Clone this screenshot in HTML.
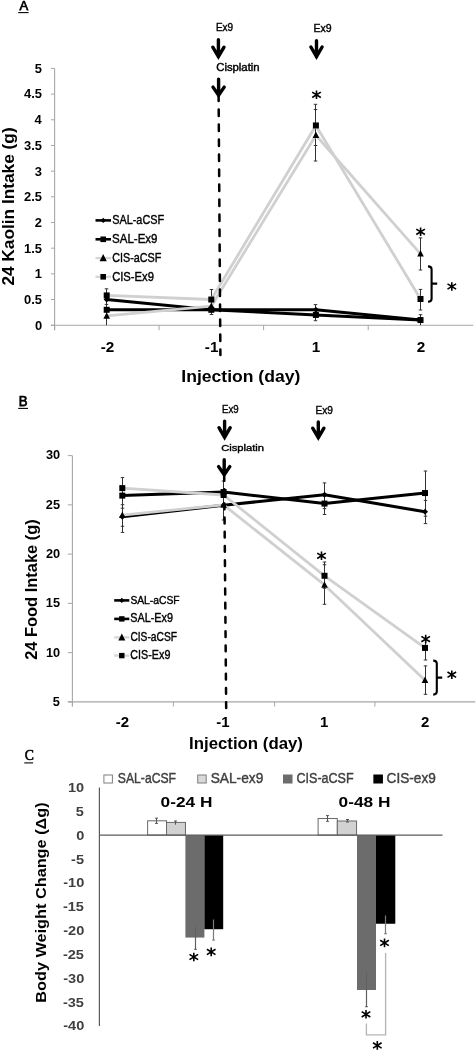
<!DOCTYPE html>
<html><head><meta charset="utf-8"><style>
html,body{margin:0;padding:0;background:#fff;width:476px;height:1050px;overflow:hidden;}
body{position:relative;font-family:"Liberation Sans", sans-serif;}
</style></head><body>
<svg width="476" height="1050" viewBox="0 0 476 1050" style="position:absolute;left:0;top:0">
<defs><filter id="bm" filterUnits="userSpaceOnUse" x="0" y="0" width="476" height="1050"><feGaussianBlur stdDeviation="0.6"/></filter><filter id="bs" filterUnits="userSpaceOnUse" x="0" y="0" width="476" height="1050"><feGaussianBlur stdDeviation="0.35"/></filter></defs>
<rect width="476" height="1050" fill="#fff"/>
<g filter="url(#bm)">
<text x="19.40" y="9.90" font-size="13.62" font-weight="normal" fill="#000" stroke="#000" stroke-width="0.75" font-family='Liberation Sans' textLength="8.69" lengthAdjust="spacingAndGlyphs">A</text>
<line x1="18.20" y1="12.60" x2="28.60" y2="12.60" stroke="#000" stroke-width="1.1" />
<line x1="54.60" y1="68.40" x2="54.60" y2="330.20" stroke="#a6a6a6" stroke-width="1.1" />
<line x1="51.00" y1="325.20" x2="473.20" y2="325.20" stroke="#a6a6a6" stroke-width="1.1" />
<line x1="51.00" y1="325.20" x2="54.60" y2="325.20" stroke="#a6a6a6" stroke-width="1" />
<text x="35.00" y="329.57" font-size="12.20" font-weight="bold" fill="#000" font-family='Liberation Sans' textLength="7.19" lengthAdjust="spacingAndGlyphs">0</text>
<line x1="51.00" y1="299.52" x2="54.60" y2="299.52" stroke="#a6a6a6" stroke-width="1" />
<text x="24.01" y="303.89" font-size="12.20" font-weight="bold" fill="#000" font-family='Liberation Sans' textLength="17.98" lengthAdjust="spacingAndGlyphs">0.5</text>
<line x1="51.00" y1="273.85" x2="54.60" y2="273.85" stroke="#a6a6a6" stroke-width="1" />
<text x="34.75" y="278.22" font-size="12.20" font-weight="bold" fill="#000" font-family='Liberation Sans' textLength="7.19" lengthAdjust="spacingAndGlyphs">1</text>
<line x1="51.00" y1="248.17" x2="54.60" y2="248.17" stroke="#a6a6a6" stroke-width="1" />
<text x="24.01" y="252.54" font-size="12.20" font-weight="bold" fill="#000" font-family='Liberation Sans' textLength="17.98" lengthAdjust="spacingAndGlyphs">1.5</text>
<line x1="51.00" y1="222.50" x2="54.60" y2="222.50" stroke="#a6a6a6" stroke-width="1" />
<text x="34.88" y="226.87" font-size="12.20" font-weight="bold" fill="#000" font-family='Liberation Sans' textLength="7.19" lengthAdjust="spacingAndGlyphs">2</text>
<line x1="51.00" y1="196.82" x2="54.60" y2="196.82" stroke="#a6a6a6" stroke-width="1" />
<text x="24.01" y="201.19" font-size="12.20" font-weight="bold" fill="#000" font-family='Liberation Sans' textLength="17.98" lengthAdjust="spacingAndGlyphs">2.5</text>
<line x1="51.00" y1="171.15" x2="54.60" y2="171.15" stroke="#a6a6a6" stroke-width="1" />
<text x="34.88" y="175.52" font-size="12.20" font-weight="bold" fill="#000" font-family='Liberation Sans' textLength="7.19" lengthAdjust="spacingAndGlyphs">3</text>
<line x1="51.00" y1="145.47" x2="54.60" y2="145.47" stroke="#a6a6a6" stroke-width="1" />
<text x="24.01" y="149.84" font-size="12.20" font-weight="bold" fill="#000" font-family='Liberation Sans' textLength="17.98" lengthAdjust="spacingAndGlyphs">3.5</text>
<line x1="51.00" y1="119.80" x2="54.60" y2="119.80" stroke="#a6a6a6" stroke-width="1" />
<text x="34.49" y="124.17" font-size="12.20" font-weight="bold" fill="#000" font-family='Liberation Sans' textLength="7.19" lengthAdjust="spacingAndGlyphs">4</text>
<line x1="51.00" y1="94.12" x2="54.60" y2="94.12" stroke="#a6a6a6" stroke-width="1" />
<text x="24.01" y="98.49" font-size="12.20" font-weight="bold" fill="#000" font-family='Liberation Sans' textLength="17.98" lengthAdjust="spacingAndGlyphs">4.5</text>
<line x1="51.00" y1="68.45" x2="54.60" y2="68.45" stroke="#a6a6a6" stroke-width="1" />
<text x="34.75" y="72.82" font-size="12.20" font-weight="bold" fill="#000" font-family='Liberation Sans' textLength="7.19" lengthAdjust="spacingAndGlyphs">5</text>
<line x1="54.60" y1="325.20" x2="54.60" y2="330.20" stroke="#a6a6a6" stroke-width="1" />
<line x1="159.00" y1="325.20" x2="159.00" y2="330.20" stroke="#a6a6a6" stroke-width="1" />
<line x1="263.60" y1="325.20" x2="263.60" y2="330.20" stroke="#a6a6a6" stroke-width="1" />
<line x1="368.20" y1="325.20" x2="368.20" y2="330.20" stroke="#a6a6a6" stroke-width="1" />
<text x="100.64" y="352.20" font-size="15.30" font-weight="bold" fill="#000" font-family='Liberation Sans' textLength="13.61" lengthAdjust="spacingAndGlyphs">-2</text>
<text x="204.87" y="352.20" font-size="15.30" font-weight="bold" fill="#000" font-family='Liberation Sans' textLength="13.61" lengthAdjust="spacingAndGlyphs">-1</text>
<text x="311.84" y="352.20" font-size="15.30" font-weight="bold" fill="#000" font-family='Liberation Sans' textLength="8.51" lengthAdjust="spacingAndGlyphs">1</text>
<text x="416.69" y="352.20" font-size="15.30" font-weight="bold" fill="#000" font-family='Liberation Sans' textLength="8.51" lengthAdjust="spacingAndGlyphs">2</text>
<text x="181.27" y="381.50" font-size="16.23" font-weight="bold" fill="#000" font-family='Liberation Sans' textLength="119.08" lengthAdjust="spacingAndGlyphs">Injection (day)</text>
<text transform="translate(13.60,285.62) rotate(-90)" font-size="16.29" font-weight="bold" fill="#000" font-family='Liberation Sans' textLength="158.26" lengthAdjust="spacingAndGlyphs">24 Kaolin Intake (g)</text>
<text x="215.90" y="31.20" font-size="11.01" font-weight="normal" fill="#000" stroke="#000" stroke-width="0.4" font-family='Liberation Sans' textLength="17.23" lengthAdjust="spacingAndGlyphs">Ex9</text>
<text x="313.56" y="31.70" font-size="11.01" font-weight="normal" fill="#000" stroke="#000" stroke-width="0.4" font-family='Liberation Sans' textLength="18.20" lengthAdjust="spacingAndGlyphs">Ex9</text>
<text x="216.23" y="70.50" font-size="10.14" font-weight="normal" fill="#000" stroke="#000" stroke-width="0.4" font-family='Liberation Sans' textLength="43.40" lengthAdjust="spacingAndGlyphs">Cisplatin</text>
<path d="M218.40,39.70 V56.80 M212.80,47.20 L218.40,56.60 L224.00,47.20" fill="none" stroke="#000" stroke-width="3.4" stroke-linecap="round" stroke-linejoin="miter"/>
<path d="M316.50,40.70 V56.90 M310.90,47.00 L316.50,56.70 L322.10,47.00" fill="none" stroke="#000" stroke-width="3.4" stroke-linecap="round" stroke-linejoin="miter"/>
<path d="M218.60,79.30 V95.50 M213.00,87.10 L218.60,95.30 L224.20,87.10" fill="none" stroke="#000" stroke-width="3.4" stroke-linecap="round" stroke-linejoin="miter"/>
</g>
<g filter="url(#bs)">
<path d="M106.50,288.80 V325.20 M104.75,288.80 H108.25 M104.75,304.40 H108.25 " stroke="#333" stroke-width="1.0" fill="none"/>
<path d="M211.50,289.50 V314.50 M209.75,289.50 H213.25 M209.75,314.50 H213.25 " stroke="#333" stroke-width="1.0" fill="none"/>
<path d="M315.50,104.30 V161.00 M313.75,104.30 H317.25 M313.75,109.50 H317.25 M313.75,145.50 H317.25 M313.75,161.00 H317.25 " stroke="#333" stroke-width="1.0" fill="none"/>
<path d="M315.50,304.60 V320.70 M313.75,304.60 H317.25 M313.75,320.70 H317.25 " stroke="#333" stroke-width="1.0" fill="none"/>
<path d="M420.50,237.90 V270.00 M418.75,237.90 H422.25 M418.75,270.00 H422.25 " stroke="#333" stroke-width="1.0" fill="none"/>
<path d="M420.50,289.40 V310.00 M418.75,289.40 H422.25 M418.75,310.00 H422.25 " stroke="#333" stroke-width="1.0" fill="none"/>
<path d="M420.50,314.70 V325.20 M418.75,314.70 H422.25 " stroke="#333" stroke-width="1.0" fill="none"/>
</g>
<g filter="url(#bm)">
<polyline points="106.70,299.52 211.30,309.80 315.90,309.80 420.50,320.06" fill="none" stroke="#000" stroke-width="3.0" stroke-linejoin="round" stroke-linecap="round" />
<polyline points="106.70,309.80 211.30,309.80 315.90,314.93 420.50,320.06" fill="none" stroke="#000" stroke-width="3.0" stroke-linejoin="round" stroke-linecap="round" />
<polyline points="106.70,315.96 211.30,306.20 315.90,135.20 420.50,253.82" fill="none" stroke="#d0d0d0" stroke-width="2.8" stroke-linejoin="round" stroke-linecap="round" />
<polyline points="106.70,295.42 211.30,299.52 315.90,125.45 420.50,299.01" fill="none" stroke="#d0d0d0" stroke-width="2.8" stroke-linejoin="round" stroke-linecap="round" />
<polygon points="106.70,296.52 109.70,299.52 106.70,302.52 103.70,299.52" fill="#000"/>
<polygon points="211.30,306.80 214.30,309.80 211.30,312.80 208.30,309.80" fill="#000"/>
<polygon points="315.90,306.80 318.90,309.80 315.90,312.80 312.90,309.80" fill="#000"/>
<polygon points="420.50,317.06 423.50,320.06 420.50,323.06 417.50,320.06" fill="#000"/>
<rect x="103.70" y="306.80" width="6.00" height="6.00" fill="#000"/>
<rect x="208.30" y="306.80" width="6.00" height="6.00" fill="#000"/>
<rect x="312.90" y="311.93" width="6.00" height="6.00" fill="#000"/>
<rect x="417.50" y="317.06" width="6.00" height="6.00" fill="#000"/>
<polygon points="106.70,312.26 110.00,318.76 103.40,318.76" fill="#000"/>
<polygon points="211.30,302.50 214.60,309.00 208.00,309.00" fill="#000"/>
<polygon points="315.90,131.50 319.20,138.00 312.60,138.00" fill="#000"/>
<polygon points="420.50,250.12 423.80,256.62 417.20,256.62" fill="#000"/>
<rect x="103.70" y="292.42" width="6.00" height="6.00" fill="#000"/>
<rect x="208.30" y="296.52" width="6.00" height="6.00" fill="#000"/>
<rect x="312.90" y="122.45" width="6.00" height="6.00" fill="#000"/>
<rect x="417.50" y="296.01" width="6.00" height="6.00" fill="#000"/>
<line x1="218.6" y1="95" x2="220.4" y2="355" stroke="#000" stroke-width="2.5" stroke-dasharray="6.7 8.3" stroke-dashoffset="0.6" stroke-linecap="round"/>
<line x1="95.50" y1="220.40" x2="111.00" y2="220.40" stroke="#000" stroke-width="2.6" />
<polygon points="103.20,217.70 105.90,220.40 103.20,223.10 100.50,220.40" fill="#000"/>
<text x="112.16" y="223.90" font-size="12.90" font-weight="normal" fill="#000" stroke="#000" stroke-width="0.4" font-family='Liberation Sans' textLength="51.97" lengthAdjust="spacingAndGlyphs">SAL-aCSF</text>
<line x1="95.50" y1="239.30" x2="111.00" y2="239.30" stroke="#000" stroke-width="2.6" />
<rect x="100.40" y="236.50" width="5.60" height="5.60" fill="#000"/>
<text x="112.12" y="242.90" font-size="12.75" font-weight="normal" fill="#000" stroke="#000" stroke-width="0.4" font-family='Liberation Sans' textLength="45.41" lengthAdjust="spacingAndGlyphs">SAL-Ex9</text>
<line x1="95.50" y1="258.10" x2="111.00" y2="258.10" stroke="#d6d6d6" stroke-width="2.3" />
<polygon points="103.20,254.10 106.80,261.20 99.60,261.20" fill="#000"/>
<text x="112.16" y="262.00" font-size="12.32" font-weight="normal" fill="#000" stroke="#000" stroke-width="0.4" font-family='Liberation Sans' textLength="49.23" lengthAdjust="spacingAndGlyphs">CIS-aCSF</text>
<line x1="95.50" y1="276.80" x2="111.00" y2="276.80" stroke="#d6d6d6" stroke-width="2.3" />
<rect x="100.40" y="274.00" width="5.60" height="5.60" fill="#000"/>
<text x="112.14" y="280.60" font-size="12.46" font-weight="normal" fill="#000" stroke="#000" stroke-width="0.4" font-family='Liberation Sans' textLength="41.85" lengthAdjust="spacingAndGlyphs">CIS-Ex9</text>
<path d="M316.50,90.50 L316.50,99.10 M312.20,92.13 L320.80,97.47 M312.20,97.47 L320.80,92.13 " stroke="#000" stroke-width="1.6" stroke-linecap="butt" fill="none"/>
<path d="M420.60,227.50 L420.60,236.10 M416.30,229.13 L424.90,234.47 M416.30,234.47 L424.90,229.13 " stroke="#000" stroke-width="1.6" stroke-linecap="butt" fill="none"/>
<path d="M451.80,282.20 L451.80,290.80 M447.50,283.83 L456.10,289.17 M447.50,289.17 L456.10,283.83 " stroke="#000" stroke-width="1.6" stroke-linecap="butt" fill="none"/>
<path d="M428.0,266.4 Q431.6,266.4 431.6,269.4 V298.8 Q431.6,301.8 428.0,301.8 M431.6,283.6 H437.2" fill="none" stroke="#000" stroke-width="2.1"/>
<text x="18.74" y="405.80" font-size="13.77" font-weight="normal" fill="#000" stroke="#000" stroke-width="0.75" font-family='Liberation Sans' textLength="8.81" lengthAdjust="spacingAndGlyphs">B</text>
<line x1="18.20" y1="408.40" x2="28.00" y2="408.40" stroke="#000" stroke-width="1.1" />
<line x1="72.40" y1="455.70" x2="72.40" y2="706.30" stroke="#a6a6a6" stroke-width="1.1" />
<line x1="68.00" y1="701.90" x2="475.20" y2="701.90" stroke="#a6a6a6" stroke-width="1.1" />
<line x1="67.80" y1="455.60" x2="72.40" y2="455.60" stroke="#a6a6a6" stroke-width="1" />
<text x="45.96" y="459.48" font-size="12.50" font-weight="bold" fill="#000" font-family='Liberation Sans' textLength="14.18" lengthAdjust="spacingAndGlyphs">30</text>
<line x1="67.80" y1="504.86" x2="72.40" y2="504.86" stroke="#a6a6a6" stroke-width="1" />
<text x="45.83" y="508.74" font-size="12.50" font-weight="bold" fill="#000" font-family='Liberation Sans' textLength="14.18" lengthAdjust="spacingAndGlyphs">25</text>
<line x1="67.80" y1="554.12" x2="72.40" y2="554.12" stroke="#a6a6a6" stroke-width="1" />
<text x="45.96" y="558.00" font-size="12.50" font-weight="bold" fill="#000" font-family='Liberation Sans' textLength="14.18" lengthAdjust="spacingAndGlyphs">20</text>
<line x1="67.80" y1="603.38" x2="72.40" y2="603.38" stroke="#a6a6a6" stroke-width="1" />
<text x="45.83" y="607.25" font-size="12.50" font-weight="bold" fill="#000" font-family='Liberation Sans' textLength="14.18" lengthAdjust="spacingAndGlyphs">15</text>
<line x1="67.80" y1="652.64" x2="72.40" y2="652.64" stroke="#a6a6a6" stroke-width="1" />
<text x="45.96" y="656.52" font-size="12.50" font-weight="bold" fill="#000" font-family='Liberation Sans' textLength="14.18" lengthAdjust="spacingAndGlyphs">10</text>
<line x1="67.80" y1="701.90" x2="72.40" y2="701.90" stroke="#a6a6a6" stroke-width="1" />
<text x="52.84" y="705.78" font-size="12.50" font-weight="bold" fill="#000" font-family='Liberation Sans' textLength="7.09" lengthAdjust="spacingAndGlyphs">5</text>
<line x1="72.40" y1="701.90" x2="72.40" y2="706.50" stroke="#a6a6a6" stroke-width="1" />
<line x1="173.40" y1="701.90" x2="173.40" y2="706.50" stroke="#a6a6a6" stroke-width="1" />
<line x1="274.60" y1="701.90" x2="274.60" y2="706.50" stroke="#a6a6a6" stroke-width="1" />
<line x1="374.90" y1="701.90" x2="374.90" y2="706.50" stroke="#a6a6a6" stroke-width="1" />
<text x="115.78" y="727.30" font-size="15.00" font-weight="bold" fill="#000" font-family='Liberation Sans' textLength="13.34" lengthAdjust="spacingAndGlyphs">-2</text>
<text x="216.25" y="727.30" font-size="15.00" font-weight="bold" fill="#000" font-family='Liberation Sans' textLength="13.34" lengthAdjust="spacingAndGlyphs">-1</text>
<text x="319.93" y="727.30" font-size="15.00" font-weight="bold" fill="#000" font-family='Liberation Sans' textLength="8.34" lengthAdjust="spacingAndGlyphs">1</text>
<text x="420.98" y="727.30" font-size="15.00" font-weight="bold" fill="#000" font-family='Liberation Sans' textLength="8.34" lengthAdjust="spacingAndGlyphs">2</text>
<text x="189.12" y="749.20" font-size="15.94" font-weight="bold" fill="#000" font-family='Liberation Sans' textLength="113.79" lengthAdjust="spacingAndGlyphs">Injection (day)</text>
<text transform="translate(36.80,659.79) rotate(-90)" font-size="16.29" font-weight="bold" fill="#000" font-family='Liberation Sans' textLength="140.45" lengthAdjust="spacingAndGlyphs">24 Food Intake (g)</text>
<text x="221.93" y="413.40" font-size="11.45" font-weight="normal" fill="#000" stroke="#000" stroke-width="0.4" font-family='Liberation Sans' textLength="16.69" lengthAdjust="spacingAndGlyphs">Ex9</text>
<text x="315.39" y="413.70" font-size="11.01" font-weight="normal" fill="#000" stroke="#000" stroke-width="0.4" font-family='Liberation Sans' textLength="17.45" lengthAdjust="spacingAndGlyphs">Ex9</text>
<text x="221.24" y="450.90" font-size="9.57" font-weight="normal" fill="#000" stroke="#000" stroke-width="0.4" font-family='Liberation Sans' textLength="42.78" lengthAdjust="spacingAndGlyphs">Cisplatin</text>
<path d="M224.60,421.10 V437.50 M219.00,427.70 L224.60,437.30 L230.20,427.70" fill="none" stroke="#000" stroke-width="3.4" stroke-linecap="round" stroke-linejoin="miter"/>
<path d="M318.30,422.00 V437.80 M312.70,428.20 L318.30,437.60 L323.90,428.20" fill="none" stroke="#000" stroke-width="3.4" stroke-linecap="round" stroke-linejoin="miter"/>
<path d="M224.20,459.70 V475.00 M218.60,466.60 L224.20,474.80 L229.80,466.60" fill="none" stroke="#000" stroke-width="3.4" stroke-linecap="round" stroke-linejoin="miter"/>
</g>
<g filter="url(#bs)">
<path d="M122.50,477.60 V532.40 M120.75,477.60 H124.25 M120.75,504.70 H124.25 M120.75,508.20 H124.25 M120.75,526.30 H124.25 M120.75,532.40 H124.25 " stroke="#333" stroke-width="1.0" fill="none"/>
<path d="M223.50,481.00 V520.00 M221.75,481.00 H225.25 M221.75,520.00 H225.25 " stroke="#333" stroke-width="1.0" fill="none"/>
<path d="M324.50,482.90 V514.50 M322.75,482.90 H326.25 M322.75,508.60 H326.25 M322.75,514.50 H326.25 " stroke="#333" stroke-width="1.0" fill="none"/>
<path d="M425.50,471.00 V523.60 M423.75,471.00 H427.25 M423.75,500.40 H427.25 M423.75,516.20 H427.25 M423.75,523.60 H427.25 " stroke="#333" stroke-width="1.0" fill="none"/>
<path d="M324.50,562.00 V604.30 M322.75,562.00 H326.25 M322.75,564.70 H326.25 M322.75,588.30 H326.25 M322.75,604.30 H326.25 " stroke="#333" stroke-width="1.0" fill="none"/>
<path d="M425.50,640.00 V660.00 M423.75,660.00 H427.25 " stroke="#333" stroke-width="1.0" fill="none"/>
<path d="M425.50,665.90 V694.30 M423.75,665.90 H427.25 M423.75,694.30 H427.25 " stroke="#333" stroke-width="1.0" fill="none"/>
</g>
<g filter="url(#bm)">
<polyline points="122.30,516.68 223.60,505.16 324.50,494.81 425.00,511.76" fill="none" stroke="#000" stroke-width="3.0" stroke-linejoin="round" stroke-linecap="round" />
<polyline points="122.30,495.60 223.60,492.05 324.50,503.58 425.00,493.04" fill="none" stroke="#000" stroke-width="3.0" stroke-linejoin="round" stroke-linecap="round" />
<polyline points="122.30,515.20 223.60,504.86 324.50,584.96 425.00,680.23" fill="none" stroke="#d0d0d0" stroke-width="2.8" stroke-linejoin="round" stroke-linecap="round" />
<polyline points="122.30,488.11 223.60,495.01 324.50,575.79 425.00,647.91" fill="none" stroke="#d0d0d0" stroke-width="2.8" stroke-linejoin="round" stroke-linecap="round" />
<polygon points="122.30,513.68 125.30,516.68 122.30,519.68 119.30,516.68" fill="#000"/>
<polygon points="223.60,502.16 226.60,505.16 223.60,508.16 220.60,505.16" fill="#000"/>
<polygon points="324.50,491.81 327.50,494.81 324.50,497.81 321.50,494.81" fill="#000"/>
<polygon points="425.00,508.76 428.00,511.76 425.00,514.76 422.00,511.76" fill="#000"/>
<rect x="119.30" y="492.60" width="6.00" height="6.00" fill="#000"/>
<rect x="220.60" y="489.05" width="6.00" height="6.00" fill="#000"/>
<rect x="321.50" y="500.58" width="6.00" height="6.00" fill="#000"/>
<rect x="422.00" y="490.04" width="6.00" height="6.00" fill="#000"/>
<polygon points="122.30,511.50 125.60,518.00 119.00,518.00" fill="#000"/>
<polygon points="223.60,501.16 226.90,507.66 220.30,507.66" fill="#000"/>
<polygon points="324.50,581.26 327.80,587.76 321.20,587.76" fill="#000"/>
<polygon points="425.00,676.53 428.30,683.03 421.70,683.03" fill="#000"/>
<rect x="119.30" y="485.11" width="6.00" height="6.00" fill="#000"/>
<rect x="220.60" y="492.01" width="6.00" height="6.00" fill="#000"/>
<rect x="321.50" y="572.79" width="6.00" height="6.00" fill="#000"/>
<rect x="422.00" y="644.91" width="6.00" height="6.00" fill="#000"/>
<line x1="224.2" y1="476" x2="226.2" y2="711" stroke="#000" stroke-width="2.5" stroke-dasharray="5.8 8.4" stroke-dashoffset="1.0" stroke-linecap="round"/>
<line x1="114.20" y1="600.40" x2="129.30" y2="600.40" stroke="#000" stroke-width="2.6" />
<polygon points="121.80,597.80 124.40,600.40 121.80,603.00 119.20,600.40" fill="#000"/>
<text x="130.39" y="603.60" font-size="11.45" font-weight="normal" fill="#000" stroke="#000" stroke-width="0.4" font-family='Liberation Sans' textLength="49.22" lengthAdjust="spacingAndGlyphs">SAL-aCSF</text>
<line x1="114.20" y1="618.90" x2="129.30" y2="618.90" stroke="#000" stroke-width="2.6" />
<rect x="119.10" y="616.20" width="5.40" height="5.40" fill="#000"/>
<text x="130.36" y="622.20" font-size="12.03" font-weight="normal" fill="#000" stroke="#000" stroke-width="0.4" font-family='Liberation Sans' textLength="42.54" lengthAdjust="spacingAndGlyphs">SAL-Ex9</text>
<line x1="114.20" y1="637.40" x2="129.30" y2="637.40" stroke="#d6d6d6" stroke-width="2.3" />
<polygon points="121.80,633.50 125.30,640.40 118.30,640.40" fill="#000"/>
<text x="130.39" y="640.60" font-size="11.88" font-weight="normal" fill="#000" stroke="#000" stroke-width="0.4" font-family='Liberation Sans' textLength="46.58" lengthAdjust="spacingAndGlyphs">CIS-aCSF</text>
<line x1="114.20" y1="655.60" x2="129.30" y2="655.60" stroke="#d6d6d6" stroke-width="2.3" />
<rect x="119.10" y="652.90" width="5.40" height="5.40" fill="#000"/>
<text x="130.36" y="659.20" font-size="12.32" font-weight="normal" fill="#000" stroke="#000" stroke-width="0.4" font-family='Liberation Sans' textLength="40.00" lengthAdjust="spacingAndGlyphs">CIS-Ex9</text>
<path d="M321.50,551.50 L321.50,560.10 M317.20,553.13 L325.80,558.47 M317.20,558.47 L325.80,553.13 " stroke="#000" stroke-width="1.6" stroke-linecap="butt" fill="none"/>
<path d="M425.70,634.80 L425.70,643.40 M421.40,636.43 L430.00,641.77 M421.40,641.77 L430.00,636.43 " stroke="#000" stroke-width="1.6" stroke-linecap="butt" fill="none"/>
<path d="M451.80,670.40 L451.80,679.00 M447.50,672.03 L456.10,677.37 M447.50,677.37 L456.10,672.03 " stroke="#000" stroke-width="1.6" stroke-linecap="butt" fill="none"/>
<path d="M433.2,660.6 Q436.8,660.6 436.8,663.6 V691.6 Q436.8,694.6 433.2,694.6 M436.8,677.6 H442.2" fill="none" stroke="#000" stroke-width="2.1"/>
<text x="24.75" y="759.70" font-size="14.09" font-weight="normal" fill="#000" stroke="#000" stroke-width="0.6" font-family='Liberation Serif' textLength="9.13" lengthAdjust="spacingAndGlyphs">C</text>
<line x1="24.30" y1="762.90" x2="33.10" y2="762.90" stroke="#000" stroke-width="1.1" />
<line x1="99.40" y1="787.50" x2="99.40" y2="1026.10" stroke="#5c5c5c" stroke-width="1.2" />
<text x="68.03" y="792.10" font-size="13.60" font-weight="bold" fill="#404040" font-family='Liberation Sans' textLength="16.19" lengthAdjust="spacingAndGlyphs">10</text>
<text x="75.89" y="815.93" font-size="13.60" font-weight="bold" fill="#404040" font-family='Liberation Sans' textLength="8.09" lengthAdjust="spacingAndGlyphs">5</text>
<text x="76.18" y="839.76" font-size="13.60" font-weight="bold" fill="#404040" font-family='Liberation Sans' textLength="8.09" lengthAdjust="spacingAndGlyphs">0</text>
<text x="71.09" y="863.59" font-size="13.60" font-weight="bold" fill="#404040" font-family='Liberation Sans' textLength="12.94" lengthAdjust="spacingAndGlyphs">-5</text>
<text x="63.23" y="887.42" font-size="13.60" font-weight="bold" fill="#404040" font-family='Liberation Sans' textLength="21.03" lengthAdjust="spacingAndGlyphs">-10</text>
<text x="62.94" y="911.25" font-size="13.60" font-weight="bold" fill="#404040" font-family='Liberation Sans' textLength="21.03" lengthAdjust="spacingAndGlyphs">-15</text>
<text x="63.23" y="935.08" font-size="13.60" font-weight="bold" fill="#404040" font-family='Liberation Sans' textLength="21.03" lengthAdjust="spacingAndGlyphs">-20</text>
<text x="62.94" y="958.91" font-size="13.60" font-weight="bold" fill="#404040" font-family='Liberation Sans' textLength="21.03" lengthAdjust="spacingAndGlyphs">-25</text>
<text x="63.23" y="982.74" font-size="13.60" font-weight="bold" fill="#404040" font-family='Liberation Sans' textLength="21.03" lengthAdjust="spacingAndGlyphs">-30</text>
<text x="62.94" y="1006.57" font-size="13.60" font-weight="bold" fill="#404040" font-family='Liberation Sans' textLength="21.03" lengthAdjust="spacingAndGlyphs">-35</text>
<text x="63.23" y="1030.40" font-size="13.60" font-weight="bold" fill="#404040" font-family='Liberation Sans' textLength="21.03" lengthAdjust="spacingAndGlyphs">-40</text>
<text transform="translate(45.80,1002.74) rotate(-90)" font-size="15.07" font-weight="bold" fill="#000" font-family='Liberation Sans' textLength="200.36" lengthAdjust="spacingAndGlyphs">Body Weight Change (Δg)</text>
<rect x="103.90" y="775.0" width="8.5" height="8.0" fill="#ffffff" stroke="#7f7f7f" stroke-width="1"/>
<text x="117.79" y="782.80" font-size="13.77" font-weight="normal" fill="#404040" stroke="#404040" stroke-width="0.4" font-family='Liberation Sans' textLength="58.29" lengthAdjust="spacingAndGlyphs">SAL-aCSF</text>
<rect x="197.70" y="775.0" width="8.5" height="8.0" fill="#d9d9d9" stroke="#7f7f7f" stroke-width="1"/>
<text x="210.71" y="782.80" font-size="13.77" font-weight="normal" fill="#404040" stroke="#404040" stroke-width="0.4" font-family='Liberation Sans' textLength="52.61" lengthAdjust="spacingAndGlyphs">SAL-ex9</text>
<rect x="283.50" y="775.0" width="8.5" height="8.0" fill="#6c6c6c" stroke="#6c6c6c" stroke-width="1"/>
<text x="296.47" y="782.80" font-size="13.77" font-weight="normal" fill="#404040" stroke="#404040" stroke-width="0.4" font-family='Liberation Sans' textLength="57.18" lengthAdjust="spacingAndGlyphs">CIS-aCSF</text>
<rect x="373.90" y="775.0" width="8.5" height="8.0" fill="#000000" stroke="#000000" stroke-width="1"/>
<text x="386.62" y="782.80" font-size="13.77" font-weight="normal" fill="#404040" stroke="#404040" stroke-width="0.4" font-family='Liberation Sans' textLength="49.19" lengthAdjust="spacingAndGlyphs">CIS-ex9</text>
<text x="160.61" y="806.60" font-size="15.00" font-weight="bold" fill="#000" font-family='Liberation Sans' textLength="51.83" lengthAdjust="spacingAndGlyphs">0-24 H</text>
<text x="338.61" y="806.60" font-size="15.00" font-weight="bold" fill="#000" font-family='Liberation Sans' textLength="51.83" lengthAdjust="spacingAndGlyphs">0-48 H</text>
<rect x="147.60" y="820.80" width="18.93" height="14.30" fill="#ffffff" stroke="#6a6a6a" stroke-width="1"/>
<rect x="166.53" y="822.42" width="18.93" height="12.68" fill="#d2d2d2" stroke="#6a6a6a" stroke-width="1"/>
<rect x="185.40" y="835.10" width="19.00" height="102.47" fill="#6c6c6c"/>
<rect x="204.40" y="835.10" width="18.80" height="94.13" fill="#000000"/>
<rect x="318.10" y="818.51" width="19.22" height="16.59" fill="#ffffff" stroke="#6a6a6a" stroke-width="1"/>
<rect x="337.32" y="820.99" width="19.22" height="14.11" fill="#d2d2d2" stroke="#6a6a6a" stroke-width="1"/>
<rect x="357.00" y="835.10" width="19.00" height="154.89" fill="#6c6c6c"/>
<rect x="376.00" y="835.10" width="19.30" height="88.65" fill="#000000"/>
<line x1="99.40" y1="835.10" x2="442.50" y2="835.10" stroke="#5c5c5c" stroke-width="1.2" />
</g>
<g filter="url(#bs)">
<path d="M156.50,818.20 V823.40 M155.00,818.20 H158.00 M155.00,823.40 H158.00 " stroke="#555" stroke-width="1.0" fill="none"/>
<path d="M175.50,821.00 V824.70 M174.00,821.00 H177.00 " stroke="#555" stroke-width="1.0" fill="none"/>
</g>
<g filter="url(#bm)">
<path d="M195.50,927.10 V949.30 M194.25,949.30 H196.75 " stroke="#606060" stroke-width="1.2" fill="none"/>
<path d="M213.50,919.40 V940.20 M212.25,940.20 H214.75 " stroke="#7a7a7a" stroke-width="1.2" fill="none"/>
</g>
<g filter="url(#bs)">
<path d="M327.50,815.60 V821.30 M326.00,815.60 H329.00 M326.00,821.30 H329.00 " stroke="#555" stroke-width="1.0" fill="none"/>
<path d="M347.50,819.50 V822.00 M346.00,819.50 H349.00 M346.00,822.00 H349.00 " stroke="#555" stroke-width="1.0" fill="none"/>
</g>
<g filter="url(#bm)">
<path d="M366.50,972.60 V1006.70 M365.25,1006.70 H367.75 " stroke="#606060" stroke-width="1.2" fill="none"/>
<path d="M385.50,915.50 V933.60 M384.25,933.60 H386.75 " stroke="#7a7a7a" stroke-width="1.2" fill="none"/>
<path d="M193.80,952.70 L193.80,961.30 M189.50,954.33 L198.10,959.67 M189.50,959.67 L198.10,954.33 " stroke="#000" stroke-width="1.6" stroke-linecap="butt" fill="none"/>
<path d="M211.20,947.60 L211.20,956.20 M206.90,949.23 L215.50,954.57 M206.90,954.57 L215.50,949.23 " stroke="#000" stroke-width="1.6" stroke-linecap="butt" fill="none"/>
<path d="M384.50,938.60 L384.50,947.20 M380.20,940.23 L388.80,945.57 M380.20,945.57 L388.80,940.23 " stroke="#000" stroke-width="1.6" stroke-linecap="butt" fill="none"/>
<path d="M366.00,1010.00 L366.00,1018.60 M361.70,1011.63 L370.30,1016.97 M361.70,1016.97 L370.30,1011.63 " stroke="#000" stroke-width="1.6" stroke-linecap="butt" fill="none"/>
<path d="M377.30,1041.10 L377.30,1049.70 M373.00,1042.73 L381.60,1048.07 M373.00,1048.07 L381.60,1042.73 " stroke="#000" stroke-width="1.6" stroke-linecap="butt" fill="none"/>
<polyline points="366.4,1023.5 366.4,1034.8 385.6,1034.8 385.6,952.9" fill="none" stroke="#b4b4b4" stroke-width="1.3"/>
</g>
</svg>
</body></html>
